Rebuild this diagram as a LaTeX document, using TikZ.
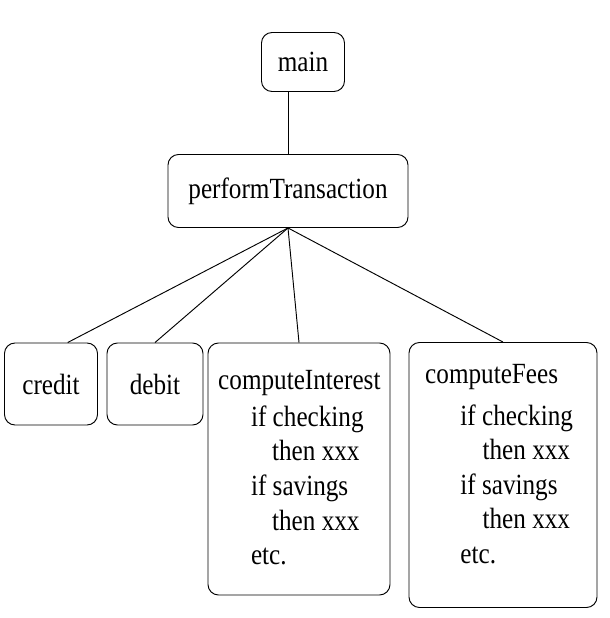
\documentclass[tikz,border=0pt]{standalone}
\usepackage{fontspec}
\setmainfont[FakeStretch=0.86]{Liberation Serif}
\usetikzlibrary{positioning}
\tikzset{
  box/.style={draw, rounded corners=9pt, thick, inner sep=0pt},
  body/.style={anchor=north west, align=left, inner sep=0pt, font=\fontsize{25}{29.5}\selectfont},
}
\begin{document}
\begin{tikzpicture}[x=0.03cm, y=-0.03cm, font=\fontsize{25}{28}\selectfont]
    \useasboundingbox (0,0) rectangle (609,618);
    \node[box, minimum width=83*0.03cm, minimum height=59*0.03cm] (main) at (303,62) {main};
    \node[box, minimum width=240*0.03cm, minimum height=73*0.03cm] (perf) at (288,191) {performTransaction};

    \node[box, minimum width=93*0.03cm, minimum height=82*0.03cm] (credit) at (51,384) {credit};
    \node[box, minimum width=96*0.03cm, minimum height=82*0.03cm] (debit) at (155,384) {debit};
    \node[box, minimum width=182*0.03cm, minimum height=252*0.03cm] (interest) at (299,469) {};
    \node[box, minimum width=188*0.03cm, minimum height=265*0.03cm] (fees) at (503,475) {};

    \node[body] (interestText) at (218,370) {computeInterest\\[2pt]
      \hspace{28pt}if checking\\
      \hspace{46pt}then xxx\\
      \hspace{28pt}if savings\\
      \hspace{46pt}then xxx\\
      \hspace{28pt}etc.};
    \node[body] (feesText) at (425,364) {computeFees\\[6pt]
      \hspace{30pt}if checking\\
      \hspace{49pt}then xxx\\
      \hspace{30pt}if savings\\
      \hspace{49pt}then xxx\\
      \hspace{30pt}etc.};

    \draw[thick] (perf.north) -- (perf.north |- main.south);
    \draw[thick] (perf.south) -- ([xshift=0.5cm]credit.north);
    \draw[thick] (perf.south) -- (debit.north);
    \draw[thick] (perf.south) -- (interest.north);
    \draw[thick] (perf.south) -- (fees.north);
\end{tikzpicture}
\end{document}
